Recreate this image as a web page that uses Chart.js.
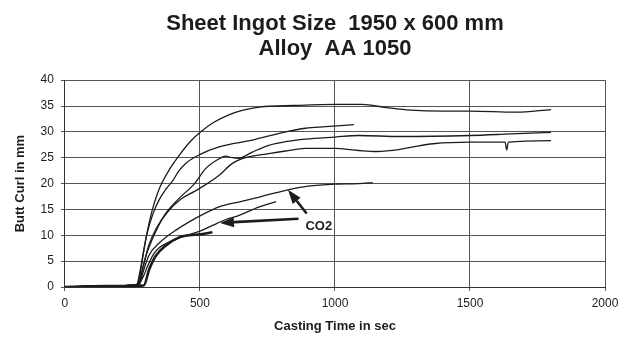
<!DOCTYPE html>
<html>
<head>
<meta charset="utf-8">
<script src="https://cdn.jsdelivr.net/npm/chart.js@4.4.1/dist/chart.umd.min.js"></script>
<style>
  html, body { margin: 0; padding: 0; background: #fff; }
  #wrap { width: 631px; height: 339px; }
</style>
</head>
<body>
<div id="wrap"><canvas id="curl"></canvas></div>
<script>
// Butt curl over casting time, one series per cast: [time s, curl mm]
const cast35 = [[0, 0], [150, 0.2], [266, 0.5], [276, 2.5], [288, 6], [302, 10], [324, 15], [342, 18],
  [358, 20], [390, 23], [421, 25.3], [460, 27.9], [503, 30], [550, 31.8], [607, 33.3], [660, 34.2],
  [720, 34.8], [850, 35.1], [1000, 35.3], [1100, 35.3], [1190, 34.7], [1280, 34.2], [1400, 34.0],
  [1500, 34.0], [1670, 33.8], [1800, 34.3]];
const cast31 = [[0, 0], [150, 0.2], [268, 0.5], [280, 3], [292, 7], [305, 10.5], [325, 14], [350, 17],
  [375, 19], [400, 20.6], [420, 22.3], [447, 23.9], [503, 25.7], [571, 27.1], [694, 28.4], [817, 30],
  [891, 30.7], [966, 31], [1070, 31.4]];
const cast30 = [[0, 0], [150, 0.2], [270, 0.5], [285, 3], [300, 6], [330, 10], [370, 14], [420, 17],
  [480, 20], [521, 22.9], [571, 24.8], [595, 25.3], [620, 25], [644, 24.9], [694, 26.1], [755, 27.4],
  [817, 28.1], [891, 28.6], [1000, 29], [1088, 29.3], [1241, 29.1], [1500, 29.3], [1650, 29.6], [1800, 29.9]];
const cast28 = [[0, 0], [150, 0.2], [272, 0.5], [290, 4], [310, 8], [340, 11.5], [380, 14.5], [430, 17],
  [480, 18.5], [521, 19.8], [571, 21.6], [620, 23.9], [669, 25], [755, 25.8], [817, 26.3], [891, 26.8],
  [1000, 26.8], [1088, 26.4], [1154, 26.2], [1241, 26.6], [1300, 27.2], [1364, 27.7], [1500, 28],
  [1630, 28], [1636, 26.5], [1642, 28], [1800, 28.3]];
const cast20 = [[0, 0], [150, 0.2], [275, 0.5], [290, 3], [310, 6], [349, 8.5], [414, 11.1], [509, 14],
  [576, 15.6], [650, 16.5], [720, 17.4], [818, 18.7], [900, 19.5], [1000, 19.9], [1088, 20], [1140, 20.2]];
const cast16 = [[0, 0], [150, 0.2], [268, 0.3], [290, 2], [310, 4.5], [330, 6.5], [349, 7.6], [390, 8.8],
  [451, 10], [500, 10.8], [546, 11.9], [598, 13.1], [632, 13.6], [720, 15.5], [782, 16.5]];
const cast10 = [[0, 0], [150, 0.2], [292, 0.3], [312, 3.4], [336, 6], [373, 8], [423, 9.6], [460, 10],
  [503, 10.2], [546, 10.6]];

const casts = [cast35, cast31, cast30, cast28, cast20, cast16, cast10];
const castWidths = [1.3, 1.3, 1.3, 1.3, 1.3, 1.3, 2.6];

// CO2 arrows, [time, curl] tail -> tip, and the label under them
const co2Tails = [[895, 14.2], [865, 13.2]];
const co2Tips = [[826, 18.8], [574, 12.4]];
const co2Label = [940, 11.7];

const FONT = '"Liberation Sans", Arial, Helvetica, sans-serif';
const INK = '#1c1c1c';

const co2Arrows = {
  id: 'co2Arrows',
  afterDatasetsDraw(chart) {
    const { ctx, scales: { x, y } } = chart;
    const head = 14, half = 5;
    ctx.save();
    ctx.strokeStyle = INK;
    ctx.fillStyle = INK;
    ctx.lineWidth = 2.6;
    co2Tails.forEach((tail, i) => {
      const x0 = x.getPixelForValue(tail[0]), y0 = y.getPixelForValue(tail[1]);
      const x1 = x.getPixelForValue(co2Tips[i][0]), y1 = y.getPixelForValue(co2Tips[i][1]);
      const a = Math.atan2(y1 - y0, x1 - x0);
      const bx = x1 - head * Math.cos(a), by = y1 - head * Math.sin(a);
      ctx.beginPath();
      ctx.moveTo(x0, y0);
      ctx.lineTo(bx, by);
      ctx.stroke();
      ctx.beginPath();
      ctx.moveTo(x1, y1);
      ctx.lineTo(bx + half * Math.sin(a), by - half * Math.cos(a));
      ctx.lineTo(bx - half * Math.sin(a), by + half * Math.cos(a));
      ctx.closePath();
      ctx.fill();
    });
    ctx.font = 'bold 13px ' + FONT;
    ctx.textAlign = 'center';
    ctx.textBaseline = 'middle';
    ctx.fillText('CO2', x.getPixelForValue(co2Label[0]), y.getPixelForValue(co2Label[1]));
    ctx.restore();
  }
};

new Chart(document.getElementById('curl'), {
  type: 'line',
  data: {
    datasets: casts.map((c, i) => ({
      data: c.map(p => ({ x: p[0], y: p[1] })),
      borderColor: INK,
      borderWidth: castWidths[i],
      pointRadius: 0,
      fill: false,
      cubicInterpolationMode: 'monotone'
    }))
  },
  options: {
    responsive: true,
    maintainAspectRatio: false,
    animation: false,
    layout: { padding: { top: 4, right: 26, left: 4, bottom: 5 } },
    plugins: {
      legend: { display: false },
      tooltip: { enabled: false },
      title: {
        display: true,
        fullSize: false,
        text: ['Sheet Ingot Size  1950 x 600 mm', 'Alloy  AA 1050'],
        color: INK,
        font: { family: FONT, size: 22, weight: 'bold', lineHeight: 1.14 },
        padding: { top: 7, bottom: 19 }
      }
    },
    scales: {
      x: {
        type: 'linear',
        min: 0,
        max: 2000,
        ticks: { stepSize: 500, color: INK, font: { family: FONT, size: 12 }, padding: 5, maxRotation: 0,
          callback: v => String(v) },
        grid: { color: '#555', lineWidth: 1, tickLength: 4 },
        border: { color: '#333', width: 1 },
        title: { display: true, text: 'Casting Time in sec', color: INK,
          font: { family: FONT, size: 13, weight: 'bold' }, padding: { top: 3, bottom: 0 } }
      },
      y: {
        min: 0,
        max: 40,
        ticks: { stepSize: 5, color: INK, font: { family: FONT, size: 12 }, padding: 7 },
        grid: { color: '#555', lineWidth: 1, tickLength: 4 },
        border: { color: '#333', width: 1 },
        title: { display: true, text: 'Butt Curl in mm', color: INK,
          font: { family: FONT, size: 13, weight: 'bold' }, padding: { top: 9, bottom: 5 } }
      }
    }
  },
  plugins: [co2Arrows]
});
</script>
</body>
</html>
